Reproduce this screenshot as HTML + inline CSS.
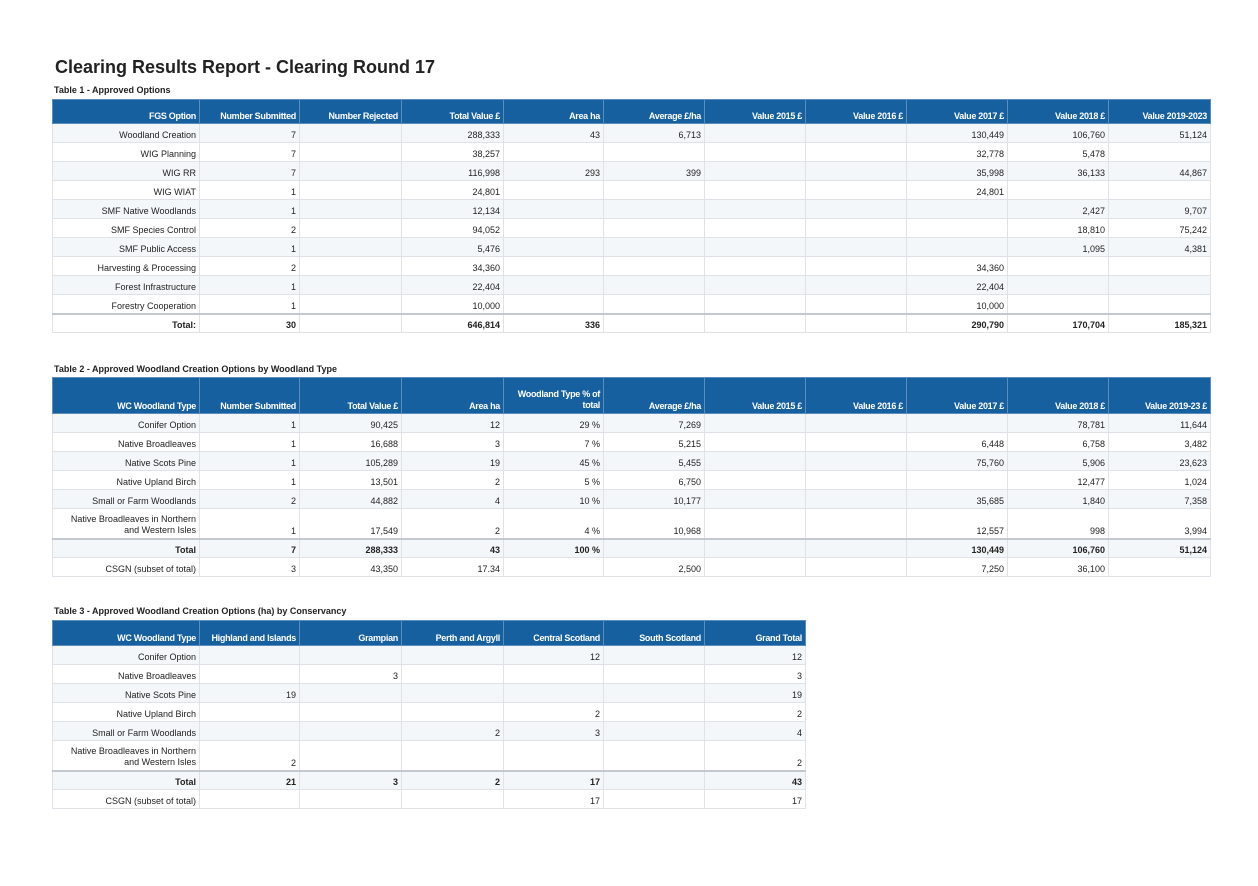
<!DOCTYPE html>
<html><head><meta charset="utf-8"><style>
body{margin:0;width:1258px;height:886px;background:#fff;font-family:"Liberation Sans",Arial,sans-serif;position:relative;overflow:hidden}
.t{position:absolute;font-weight:bold;color:#222}
table{position:absolute;left:52px;border-collapse:collapse;table-layout:fixed;font-size:9px;color:#222}
td{border:1px solid #dfe3e8;text-align:right;padding:0 3px 0 2px;vertical-align:bottom;padding-bottom:2px;white-space:nowrap;overflow:hidden}
tr.h td{background:#1660a0;color:#fff;font-weight:bold;border-color:#5a8cbc;letter-spacing:-0.3px}
tr:nth-child(even) td{background:#f4f7f9}
tr.h td{background:#1660a0}
tr.tot td{font-weight:bold;border-top:2px solid #c4c8d0;background:#fff}
tr.tot2 td{font-weight:bold;border-top:2px solid #c4c8d0}
td.w{white-space:normal;line-height:11px}
</style></head><body>
<div class="t" style="left:55px;top:57px;font-size:18px">Clearing Results Report - Clearing Round 17</div>
<div class="t" style="left:54px;top:85px;font-size:9px">Table 1 - Approved Options</div>
<table style="top:99px;width:1158px">
<colgroup><col style="width:147px"><col style="width:100px"><col style="width:102px"><col style="width:102px"><col style="width:100px"><col style="width:101px"><col style="width:101px"><col style="width:101px"><col style="width:101px"><col style="width:101px"><col style="width:102px"></colgroup>
<tr class="h" style="height:24px"><td>FGS Option</td><td>Number Submitted</td><td>Number Rejected</td><td>Total Value £</td><td>Area ha</td><td>Average £/ha</td><td>Value 2015 £</td><td>Value 2016 £</td><td>Value 2017 £</td><td>Value 2018 £</td><td>Value 2019-2023</td></tr>
<tr style="height:19px"><td>Woodland Creation</td><td>7</td><td></td><td>288,333</td><td>43</td><td>6,713</td><td></td><td></td><td>130,449</td><td>106,760</td><td>51,124</td></tr>
<tr style="height:19px"><td>WIG Planning</td><td>7</td><td></td><td>38,257</td><td></td><td></td><td></td><td></td><td>32,778</td><td>5,478</td><td></td></tr>
<tr style="height:19px"><td>WIG RR</td><td>7</td><td></td><td>116,998</td><td>293</td><td>399</td><td></td><td></td><td>35,998</td><td>36,133</td><td>44,867</td></tr>
<tr style="height:19px"><td>WIG WIAT</td><td>1</td><td></td><td>24,801</td><td></td><td></td><td></td><td></td><td>24,801</td><td></td><td></td></tr>
<tr style="height:19px"><td>SMF Native Woodlands</td><td>1</td><td></td><td>12,134</td><td></td><td></td><td></td><td></td><td></td><td>2,427</td><td>9,707</td></tr>
<tr style="height:19px"><td>SMF Species Control</td><td>2</td><td></td><td>94,052</td><td></td><td></td><td></td><td></td><td></td><td>18,810</td><td>75,242</td></tr>
<tr style="height:19px"><td>SMF Public Access</td><td>1</td><td></td><td>5,476</td><td></td><td></td><td></td><td></td><td></td><td>1,095</td><td>4,381</td></tr>
<tr style="height:19px"><td>Harvesting &amp; Processing</td><td>2</td><td></td><td>34,360</td><td></td><td></td><td></td><td></td><td>34,360</td><td></td><td></td></tr>
<tr style="height:19px"><td>Forest Infrastructure</td><td>1</td><td></td><td>22,404</td><td></td><td></td><td></td><td></td><td>22,404</td><td></td><td></td></tr>
<tr style="height:19px"><td>Forestry Cooperation</td><td>1</td><td></td><td>10,000</td><td></td><td></td><td></td><td></td><td>10,000</td><td></td><td></td></tr>
<tr class="tot" style="height:19px"><td>Total:</td><td>30</td><td></td><td>646,814</td><td>336</td><td></td><td></td><td></td><td>290,790</td><td>170,704</td><td>185,321</td></tr>
</table>

<div class="t" style="left:54px;top:364px;font-size:9px">Table 2 - Approved Woodland Creation Options by Woodland Type</div>
<table style="top:377px;width:1158px">
<colgroup><col style="width:147px"><col style="width:100px"><col style="width:102px"><col style="width:102px"><col style="width:100px"><col style="width:101px"><col style="width:101px"><col style="width:101px"><col style="width:101px"><col style="width:101px"><col style="width:102px"></colgroup>
<tr class="h" style="height:36px"><td>WC Woodland Type</td><td>Number Submitted</td><td>Total Value £</td><td>Area ha</td><td class="w">Woodland Type % of total</td><td>Average £/ha</td><td>Value 2015 £</td><td>Value 2016 £</td><td>Value 2017 £</td><td>Value 2018 £</td><td>Value 2019-23 £</td></tr>
<tr style="height:19px"><td>Conifer Option</td><td>1</td><td>90,425</td><td>12</td><td>29 %</td><td>7,269</td><td></td><td></td><td></td><td>78,781</td><td>11,644</td></tr>
<tr style="height:19px"><td>Native Broadleaves</td><td>1</td><td>16,688</td><td>3</td><td>7 %</td><td>5,215</td><td></td><td></td><td>6,448</td><td>6,758</td><td>3,482</td></tr>
<tr style="height:19px"><td>Native Scots Pine</td><td>1</td><td>105,289</td><td>19</td><td>45 %</td><td>5,455</td><td></td><td></td><td>75,760</td><td>5,906</td><td>23,623</td></tr>
<tr style="height:19px"><td>Native Upland Birch</td><td>1</td><td>13,501</td><td>2</td><td>5 %</td><td>6,750</td><td></td><td></td><td></td><td>12,477</td><td>1,024</td></tr>
<tr style="height:19px"><td>Small or Farm Woodlands</td><td>2</td><td>44,882</td><td>4</td><td>10 %</td><td>10,177</td><td></td><td></td><td>35,685</td><td>1,840</td><td>7,358</td></tr>
<tr style="height:30px"><td class="w">Native Broadleaves in Northern and Western Isles</td><td>1</td><td>17,549</td><td>2</td><td>4 %</td><td>10,968</td><td></td><td></td><td>12,557</td><td>998</td><td>3,994</td></tr>
<tr class="tot2" style="height:19px"><td>Total</td><td>7</td><td>288,333</td><td>43</td><td>100 %</td><td></td><td></td><td></td><td>130,449</td><td>106,760</td><td>51,124</td></tr>
<tr style="height:19px;font-weight:normal"><td>CSGN (subset of total)</td><td>3</td><td>43,350</td><td>17.34</td><td></td><td>2,500</td><td></td><td></td><td>7,250</td><td>36,100</td><td></td></tr>
</table>

<div class="t" style="left:54px;top:606px;font-size:9px">Table 3 - Approved Woodland Creation Options (ha) by Conservancy</div>
<table style="top:620px;width:753px">
<colgroup><col style="width:147px"><col style="width:100px"><col style="width:102px"><col style="width:102px"><col style="width:100px"><col style="width:101px"><col style="width:101px"></colgroup>
<tr class="h" style="height:25px"><td>WC Woodland Type</td><td>Highland and Islands</td><td>Grampian</td><td>Perth and Argyll</td><td>Central Scotland</td><td>South Scotland</td><td>Grand Total</td></tr>
<tr style="height:19px"><td>Conifer Option</td><td></td><td></td><td></td><td>12</td><td></td><td>12</td></tr>
<tr style="height:19px"><td>Native Broadleaves</td><td></td><td>3</td><td></td><td></td><td></td><td>3</td></tr>
<tr style="height:19px"><td>Native Scots Pine</td><td>19</td><td></td><td></td><td></td><td></td><td>19</td></tr>
<tr style="height:19px"><td>Native Upland Birch</td><td></td><td></td><td></td><td>2</td><td></td><td>2</td></tr>
<tr style="height:19px"><td>Small or Farm Woodlands</td><td></td><td></td><td>2</td><td>3</td><td></td><td>4</td></tr>
<tr style="height:30px"><td class="w">Native Broadleaves in Northern and Western Isles</td><td>2</td><td></td><td></td><td></td><td></td><td>2</td></tr>
<tr class="tot2" style="height:19px"><td>Total</td><td>21</td><td>3</td><td>2</td><td>17</td><td></td><td>43</td></tr>
<tr style="height:19px"><td>CSGN (subset of total)</td><td></td><td></td><td></td><td>17</td><td></td><td>17</td></tr>
</table>
</body></html>
